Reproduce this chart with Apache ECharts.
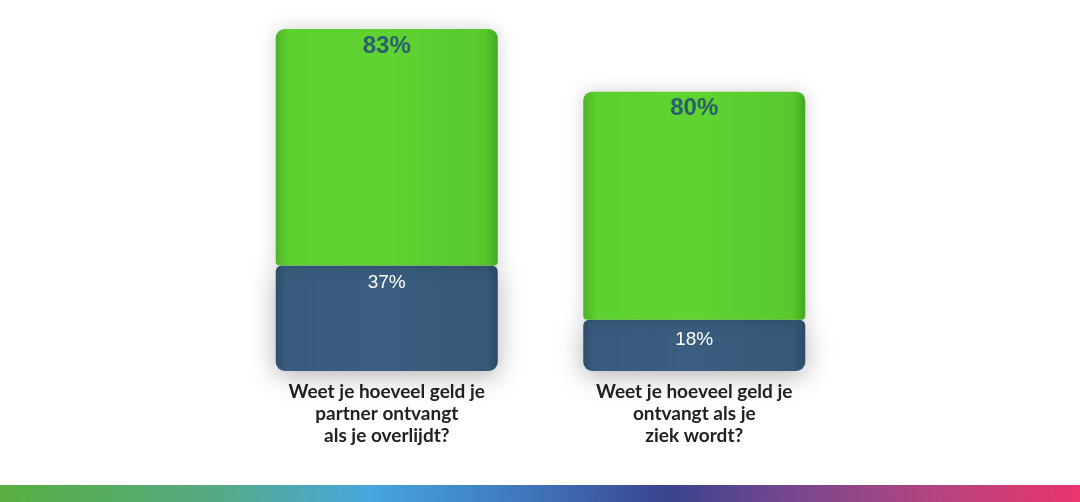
<!DOCTYPE html>
<html><head><meta charset="utf-8">
<script src="https://cdn.jsdelivr.net/npm/echarts@6/dist/echarts.min.js"></script>
<style>html,body{margin:0;padding:0;background:#fff}#c{width:1080px;height:502px}</style>
</head><body><div id="c"></div>
<script>
const categories = [
  'Weet je hoeveel geld je\npartner ontvangt\nals je overlijdt?',
  'Weet je hoeveel geld je\nontvangt als je\nziek wordt?'
];
const darkValues = [37, 18];
const greenValues = [83, 80];

const chart = echarts.init(document.getElementById('c'));
const greenGrad = new echarts.graphic.LinearGradient(0,0,1,0,[
  {offset:0,color:'#4cb427'},{offset:0.06,color:'#5dd130'},{offset:0.5,color:'#60d332'},{offset:0.94,color:'#58c82c'},{offset:1,color:'#45a824'}
]);
const darkGrad = new echarts.graphic.LinearGradient(0,0,1,0,[
  {offset:0,color:'#2f4e6c'},{offset:0.05,color:'#395c7e'},{offset:0.5,color:'#3b5d7f'},{offset:0.95,color:'#375878'},{offset:1,color:'#2c4a66'}
]);
const darkData = darkValues.map((v,i)=>({value:v,label:{distance:i===0?8:11}}));
chart.setOption({
  animation:false,
  backgroundColor:'#ffffff',
  grid:{left:233,right:232,top:29,bottom:131},
  xAxis:{type:'category',data:categories,
    axisLine:{show:false},axisTick:{show:false},
    axisLabel:{margin:10,fontFamily:'Lato',fontWeight:'bold',fontSize:19,color:'#222',lineHeight:22,align:'center'}},
  yAxis:{type:'value',min:0,max:120,show:false,splitLine:{show:false}},
  series:[
    {type:'bar',stack:'s',barWidth:222,data:darkData,
     itemStyle:{color:darkGrad,borderRadius:[6,6,9,9],shadowColor:'rgba(0,0,0,0.3)',shadowBlur:26,shadowOffsetY:5},
     label:{show:true,position:'insideTop',formatter:'{c}%',color:'#ffffff',fontFamily:'Liberation Sans, Arial',fontSize:19}},
    {type:'bar',stack:'s',barWidth:222,data:greenValues,
     itemStyle:{color:greenGrad,borderRadius:[9,9,4,4],shadowColor:'rgba(0,0,0,0.18)',shadowBlur:18},
     label:{show:true,position:'insideTop',distance:5,formatter:'{c}%',color:'#2b5f6c',fontFamily:'Liberation Sans, Arial',fontWeight:'bold',fontSize:24}}
  ],
  graphic:[{type:'rect',left:0,top:485,shape:{width:1080,height:17},
    style:{fill:new echarts.graphic.LinearGradient(0,0,1,0,[
      {offset:0,color:'#58ae3f'},{offset:0.2,color:'#55aa85'},{offset:0.34,color:'#47a6dd'},{offset:0.48,color:'#3f79bd'},
      {offset:0.62,color:'#3a438e'},{offset:0.72,color:'#70478f'},{offset:0.86,color:'#b14580'},{offset:1,color:'#eb356d'}])}}]
});
</script></body></html>
